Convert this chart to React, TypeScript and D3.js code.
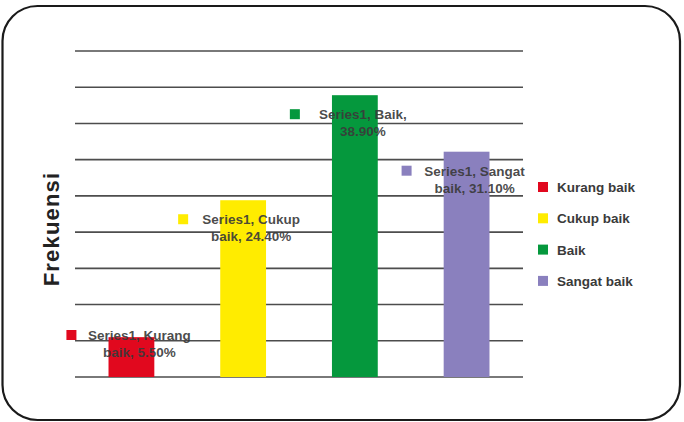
import React from "react";
import * as d3 from "d3";

const categories = ["Kurang baik", "Cukup baik", "Baik", "Sangat baik"];
const values = [5.5, 24.4, 38.9, 31.1];
const colors = ["#E1081E", "#FFEC00", "#05983D", "#8A80BE"];
const labelLine1 = ["Series1, Kurang", "Series1, Cukup", "Series1, Baik,", "Series1, Sangat"];
const labelLine2 = ["baik, 5.50%", "baik, 24.40%", "38.90%", "baik, 31.10%"];
const yTicks = [0, 5, 10, 15, 20, 25, 30, 35, 40, 45];
const axisTitle = "Frekuensi";

const W = 684;
const H = 422;

export default function App() {
  const x = d3.scaleBand<string>().domain(categories).range([75, 523]).paddingInner(0.59).paddingOuter(0.3);
  const y = d3.scaleLinear().domain([0, 45]).range([377, 51]);
  const font = "'Liberation Sans', Arial, sans-serif";
  const base = y(0);

  return (
    <svg width={W} height={H} style={{ position: "absolute", left: 0, top: 0 }} fontFamily={font}>
      <rect x={0} y={0} width={W} height={H} fill="#fff" />
      <rect x={2.5} y={6} width={677.5} height={414} rx={35} ry={35} fill="#fff" stroke="#1a1a1a" strokeWidth={2.2} />
      {yTicks.map((t) => (
        <line key={t} x1={75} x2={523} y1={y(t)} y2={y(t)} stroke="#4d4d4d" strokeWidth={1.6} />
      ))}
      {categories.map((c, i) => (
        <rect key={c} x={x(c)} y={y(values[i])} width={x.bandwidth()} height={base - y(values[i])} fill={colors[i]} />
      ))}
      {categories.map((c, i) => {
        const cx = (x(c) as number) + x.bandwidth() / 2;
        const tc = cx + 8;
        const l1 = Math.min(y(values[i]) + 19, base - 42);
        return (
          <g key={c + "l"}>
            <rect x={tc - 73} y={l1 - 5} width={10} height={10} fill={colors[i]} />
            <text x={tc} y={l1 + 5} textAnchor="middle" fontSize={13.5} fontWeight="bold" fill="#3a3a3a" fillOpacity={0.92}>
              {labelLine1[i]}
            </text>
            <text x={tc} y={l1 + 22} textAnchor="middle" fontSize={13.5} fontWeight="bold" fill="#3a3a3a" fillOpacity={0.92}>
              {labelLine2[i]}
            </text>
          </g>
        );
      })}
      <text
        transform={`translate(59,229) rotate(-90)`}
        textAnchor="middle"
        fontSize={22}
        fontWeight="bold"
        letterSpacing={1.2}
        fill="#222"
      >
        {axisTitle}
      </text>
      {categories.map((c, i) => (
        <g key={c + "g"} transform={`translate(538,${187 + i * 31.3})`}>
          <rect x={0} y={-5} width={10} height={10} fill={colors[i]} />
          <text x={19} y={5} fontSize={13.5} fontWeight="bold" fill="#3a3a3a">
            {c}
          </text>
        </g>
      ))}
    </svg>
  );
}
